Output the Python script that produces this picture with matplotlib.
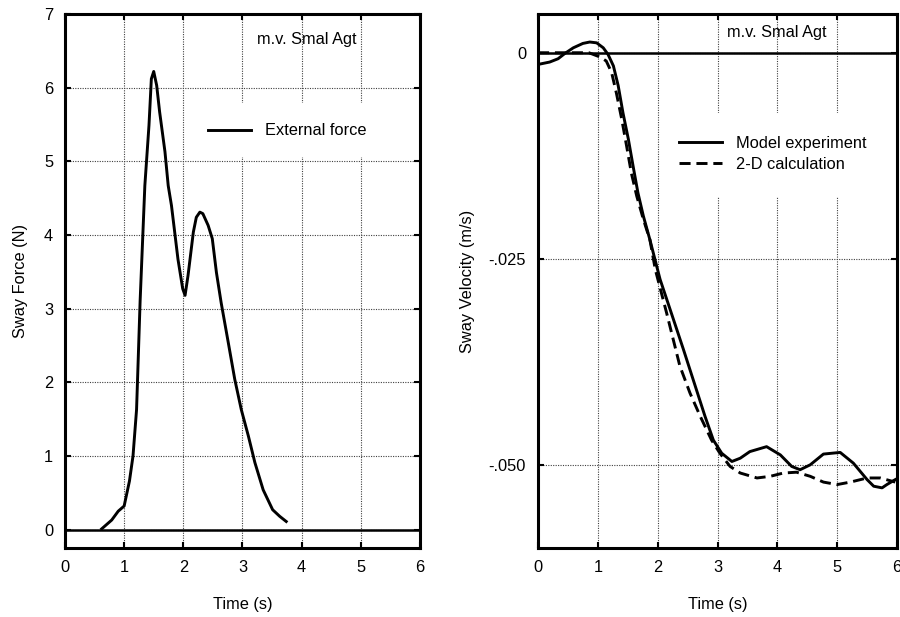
import matplotlib
matplotlib.use("Agg")
import matplotlib.pyplot as plt
from matplotlib.patches import Rectangle

plt.rcParams['font.family'] = ['Liberation Sans', 'DejaVu Sans']
FS = 11.8

# ---------------- data ----------------
force_t = [0.62, 0.79, 0.90, 1.00, 1.09, 1.15, 1.21, 1.27, 1.35, 1.42, 1.46, 1.50,
           1.55, 1.60, 1.69, 1.745, 1.80, 1.91, 1.99, 2.03, 2.08, 2.17, 2.22, 2.28,
           2.33, 2.42, 2.49, 2.56, 2.64, 2.76, 2.87, 2.98, 3.10, 3.21, 3.35, 3.51,
           3.63, 3.74]
force_n = [0.01, 0.13, 0.25, 0.32, 0.66, 1.00, 1.63, 3.10, 4.67, 5.49, 6.12, 6.22,
           6.03, 5.67, 5.13, 4.67, 4.40, 3.67, 3.27, 3.18, 3.45, 4.04, 4.24, 4.31,
           4.29, 4.13, 3.95, 3.49, 3.08, 2.54, 2.04, 1.63, 1.27, 0.91, 0.54, 0.27,
           0.18, 0.11]

exp_t = [0.0, 0.195, 0.335, 0.45, 0.59, 0.75, 0.865, 0.98, 1.09, 1.17, 1.26, 1.34,
         1.42, 1.51, 1.59, 1.67, 1.76, 1.87, 2.04, 2.21, 2.43, 2.63, 2.79, 2.93,
         3.07, 3.24, 3.38, 3.54, 3.82, 4.05, 4.24, 4.38, 4.55, 4.77, 5.05,
         5.27, 5.50, 5.61, 5.75, 5.83, 5.97]
exp_v = [-0.00142, -0.00113, -0.00073, -0.00008, 0.0006, 0.00113, 0.0013, 0.0012,
         0.0006, -0.0002, -0.0016, -0.0040, -0.0073, -0.0105, -0.0138, -0.0170,
         -0.0198, -0.0227, -0.0275, -0.0312, -0.0360, -0.0405, -0.0441, -0.0470,
         -0.0486, -0.0496, -0.0492, -0.0484, -0.0478, -0.0488, -0.0502,
         -0.0506, -0.0500, -0.0487, -0.0485, -0.0498, -0.0518, -0.0526, -0.0528,
         -0.0524, -0.0518]

calc_t = [0.0, 0.5, 0.85, 1.03, 1.14, 1.23, 1.31, 1.40, 1.48, 1.56, 1.65, 1.76,
          1.87, 1.96, 2.15, 2.26, 2.37, 2.54, 2.71, 2.90, 3.04, 3.21, 3.38, 3.66,
          3.88, 4.10, 4.32, 4.55, 4.77, 5.00, 5.22, 5.50, 5.72, 5.97]
calc_v = [0.0, 0.0, 0.0, -0.0005, -0.0010, -0.0024, -0.0049, -0.0081, -0.0113,
          -0.0146, -0.0174, -0.0202, -0.0227, -0.0263, -0.0316, -0.0348, -0.0380,
          -0.0413, -0.0441, -0.0470, -0.0486, -0.0502, -0.0510, -0.0516, -0.0514,
          -0.0510, -0.0509, -0.0514, -0.0521, -0.0524, -0.0521, -0.0516, -0.0516,
          -0.0521]

x_ticks = [0, 1, 2, 3, 4, 5, 6]
left_y_ticks = [0, 1, 2, 3, 4, 5, 6, 7]
right_y_ticks = [0.0, -0.025, -0.050]
right_y_labels = ['0', '-.025', '-.050']

ship_name = 'm.v. Smal Agt'

# ---------------- figure ----------------
fig = plt.figure(figsize=(9, 6.17), dpi=100)
ax1 = fig.add_axes([0.0722, 0.1118, 0.3944, 0.8655])
ax2 = fig.add_axes([0.5978, 0.1118, 0.3989, 0.8655])


def style(ax):
    for s in ax.spines.values():
        s.set_linewidth(2.2)
    ax.tick_params(direction='in', top=True, right=True, length=4, width=1.5,
                   labelsize=FS, pad=8.6)
    ax.grid(True, linestyle=(0, (1, 1.2)), color='0.25', linewidth=0.8)
    ax.set_xlim(0, 6)
    ax.set_xticks(x_ticks)
    ax.set_xlabel('Time (s)', fontsize=FS, va='center')
    ax.xaxis.set_label_coords(0.5, -0.105)


# left
style(ax1)
ax1.set_ylim(-0.25, 7)
ax1.set_yticks(left_y_ticks)
ax1.axhline(0, color='k', lw=1.8, zorder=2)
ax1.plot(force_t, force_n, color='k', lw=2.1, label='External force', zorder=3)
ax1.set_ylabel('Sway Force (N)', fontsize=FS)
ax1.yaxis.set_label_coords(-0.104, 0.5)
ax1.add_patch(Rectangle((0.366, 0.732), 0.634, 0.101, transform=ax1.transAxes,
                        facecolor='white', edgecolor='none', zorder=1.8))
ax1.text(0.541, 0.953, ship_name, transform=ax1.transAxes, fontsize=FS,
         ha='left', va='center')
ax1.legend(loc='center left', bbox_to_anchor=(0.403, 0.781), frameon=False,
           borderpad=0, borderaxespad=0, handlelength=2.63, handletextpad=0.86,
           fontsize=FS)

# right
style(ax2)
ax2.set_ylim(-0.0601, 0.0047)
ax2.set_yticks(right_y_ticks)
ax2.set_yticklabels(right_y_labels)
ax2.axhline(0, color='k', lw=1.8, zorder=2)
ax2.plot(exp_t, exp_v, color='k', lw=2.1, label='Model experiment', zorder=3)
ax2.plot(calc_t, calc_v, color='k', lw=2.1, ls=(0, (3.8, 2.0)),
         label='2-D calculation', zorder=3)
ax2.set_ylabel('Sway Velocity (m/s)', fontsize=FS)
ax2.yaxis.set_label_coords(-0.175, 0.5)
ax2.add_patch(Rectangle((0.362, 0.657), 0.638, 0.158, transform=ax2.transAxes,
                        facecolor='white', edgecolor='none', zorder=1.8))
ax2.text(0.526, 0.966, ship_name, transform=ax2.transAxes, fontsize=FS,
         ha='left', va='center')
ax2.legend(loc='center left', bbox_to_anchor=(0.393, 0.738), frameon=False,
           borderpad=0, borderaxespad=0, handlelength=2.63, handletextpad=0.86,
           labelspacing=0.4, fontsize=FS)

fig.savefig('out.png', dpi=100)
